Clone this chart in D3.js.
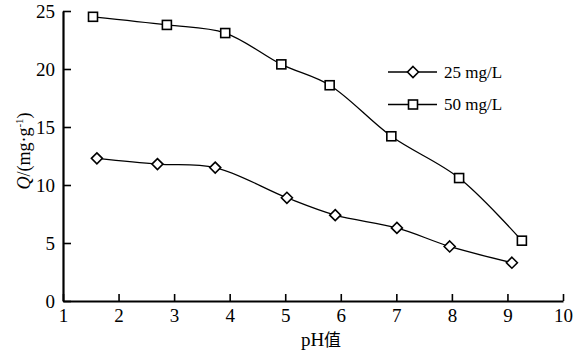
<!DOCTYPE html>
<html>
<head>
<meta charset="utf-8">
<script src="https://cdn.jsdelivr.net/npm/d3@7"></script>
<style>
  body { margin: 0; background: #fff; }
</style>
</head>
<body>
<div id="vis"></div>
<script>
// data
const seriesNames = ["25 mg/L", "50 mg/L"];
const ph25 = [1.61, 2.70, 3.74, 5.03, 5.90, 7.01, 7.96, 9.08];
const q25 = [12.3, 11.8, 11.5, 8.9, 7.4, 6.3, 4.7, 3.3];
const ph50 = [1.54, 2.87, 3.92, 4.93, 5.80, 6.91, 8.13, 9.26];
const q50 = [24.5, 23.8, 23.1, 20.4, 18.6, 14.2, 10.6, 5.2];
const xTicks = [1, 2, 3, 4, 5, 6, 7, 8, 9, 10];
const yTicks = [0, 5, 10, 15, 20, 25];

const W = 584, H = 353;
const margin = { top: 11, right: 21, bottom: 52, left: 63 };
const width = W - margin.left - margin.right;
const height = H - margin.top - margin.bottom;
const serif = "Liberation Serif";

const root = d3.select("#vis").append("svg")
    .attr("width", W)
    .attr("height", H);

const svg = root.append("g")
    .attr("transform", `translate(${margin.left},${margin.top})`);

const x = d3.scaleLinear().domain([1, 10]).range([0, width]);
const y = d3.scaleLinear().domain([0, 25]).range([height, 0]);

// axes, ticks pointing inward
const xAxis = svg.append("g")
    .attr("transform", `translate(0,${height})`)
    .call(d3.axisBottom(x).tickValues(xTicks).tickSize(-7).tickPadding(8).tickSizeOuter(0))
    .attr("font-family", serif)
    .attr("font-size", 19);
xAxis.selectAll("line").attr("stroke-width", 1.6);
xAxis.select(".domain").attr("stroke-width", 2.2);

const yAxis = svg.append("g")
    .call(d3.axisLeft(y).tickValues(yTicks).tickSize(-8).tickPadding(8).tickSizeOuter(0))
    .attr("font-family", serif)
    .attr("font-size", 19);
yAxis.selectAll("line").attr("stroke-width", 1.6);
yAxis.select(".domain").attr("stroke-width", 2.2);
yAxis.selectAll("text").attr("dy", "0.35em");

// smoothed lines
const line = d3.line()
    .x(d => x(d[0]))
    .y(d => y(d[1]))
    .curve(d3.curveCatmullRom.alpha(0.5));

const s25 = ph25.map((v, i) => [v, q25[i]]);
const s50 = ph50.map((v, i) => [v, q50[i]]);

[s25, s50].forEach(s => {
  svg.append("path")
      .datum(s)
      .attr("fill", "none")
      .attr("stroke", "#000")
      .attr("stroke-width", 1.3)
      .attr("d", line);
});

const diamond = (g, cx, cy) => g.append("path")
    .attr("d", `M${cx},${cy - 5.5}L${cx + 5.5},${cy}L${cx},${cy + 5.5}L${cx - 5.5},${cy}Z`)
    .attr("fill", "#fff").attr("stroke", "#000").attr("stroke-width", 1.6);
const square = (g, cx, cy) => g.append("rect")
    .attr("x", cx - 4.5).attr("y", cy - 4.5)
    .attr("width", 9).attr("height", 9)
    .attr("fill", "#fff").attr("stroke", "#000").attr("stroke-width", 1.6);

s25.forEach(d => diamond(svg, x(d[0]), y(d[1])));
s50.forEach(d => square(svg, x(d[0]), y(d[1])));

// legend
const markers = [diamond, square];
seriesNames.forEach((name, i) => {
  const ly = 72 + i * 32.5;
  root.append("line")
      .attr("x1", 388).attr("x2", 437)
      .attr("y1", ly).attr("y2", ly)
      .attr("stroke", "#000").attr("stroke-width", 1.3);
  markers[i](root, 413, ly);
  root.append("text")
      .attr("x", 444).attr("y", ly + 5.5)
      .attr("font-family", serif)
      .attr("font-size", 17)
      .text(name);
});

// axis titles
const xt = root.append("text")
    .attr("x", 321).attr("y", 346)
    .attr("text-anchor", "middle")
    .attr("font-family", serif)
    .attr("font-size", 19);
xt.append("tspan").text("pH");
xt.append("tspan")
    .attr("font-family", "Noto Sans CJK SC")
    .attr("font-size", 17)
    .text("值");

const yt = root.append("text")
    .attr("transform", "translate(30,151) rotate(-90)")
    .attr("text-anchor", "middle")
    .attr("font-family", serif)
    .attr("font-size", 18);
yt.append("tspan").attr("font-style", "italic").text("Q");
yt.append("tspan").text("/(mg·g");
yt.append("tspan").attr("dy", -7).attr("font-size", 11).text("-1");
yt.append("tspan").attr("dy", 7).text(")");
</script>
</body>
</html>
